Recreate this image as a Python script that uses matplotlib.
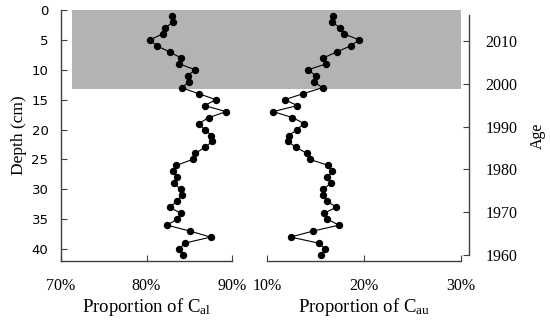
import matplotlib
matplotlib.use("Agg")
import matplotlib.pyplot as plt
import numpy as np
from matplotlib.patches import Rectangle

# depth of each sample (cm)
depth = list(range(1, 42))

# proportion of C_al (%)
c_al = [83.0, 83.1, 82.2, 81.9, 80.4, 81.2, 82.7, 84.0, 83.8, 85.7,
        84.8, 85.0, 84.1, 86.1, 88.1, 86.8, 89.3, 87.3, 86.1, 86.8,
        87.6, 87.7, 86.8, 85.7, 85.4, 83.5, 83.1, 83.6, 83.2, 84.0,
        84.1, 83.6, 82.7, 84.0, 83.6, 82.4, 85.1, 87.5, 84.5, 83.8,
        84.3]

# proportion of C_au (%)
c_au = [16.8, 16.7, 17.5, 17.9, 19.5, 18.6, 17.2, 15.8, 16.1, 14.2,
        15.0, 14.8, 15.7, 13.7, 11.8, 13.1, 10.6, 12.6, 13.8, 13.1,
        12.2, 12.1, 13.0, 14.1, 14.4, 16.3, 16.7, 16.2, 16.6, 15.7,
        15.7, 16.2, 17.1, 15.9, 16.2, 17.4, 14.7, 12.4, 15.3, 16.0,
        15.5]

depth_ticks = [0, 5, 10, 15, 20, 25, 30, 35, 40]
al_ticks = [70, 80, 90]
au_ticks = [10, 20, 30]
age_ticks = [1960, 1970, 1980, 1990, 2000, 2010]

shade_depth = 13.3  # grey band (recent period)

SERIF = "Liberation Serif"
plt.rcParams["font.family"] = SERIF
plt.rcParams["mathtext.fontset"] = "custom"
plt.rcParams["mathtext.rm"] = SERIF
plt.rcParams["mathtext.it"] = SERIF + ":italic"

W, H = 550, 322
fig = plt.figure(figsize=(W / 100, H / 100), dpi=100)

top, bot = 10, 261
ax1 = fig.add_axes([61 / W, (H - bot) / H, (232 - 61) / W, (bot - top) / H])
ax2 = fig.add_axes([267.3 / W, (H - bot) / H, (461 - 267.3) / W, (bot - top) / H])
ax3 = fig.add_axes([469 / W - 0.01, (H - bot) / H, 0.01, (bot - top) / H])

spine_col = "#404040"
for ax in (ax1, ax2, ax3):
    ax.set_facecolor("none")
    for s in ax.spines.values():
        s.set_color(spine_col)
        s.set_linewidth(1.0)

style = dict(color="black", marker="o", markersize=4.3, linewidth=0.8)
ax1.plot(c_al, depth, **style)
ax2.plot(c_au, depth, **style)

for ax in (ax1, ax2):
    ax.set_ylim(42, 0)
    ax.spines["top"].set_visible(False)
    ax.spines["right"].set_visible(False)
    ax.tick_params(axis="x", direction="in", length=4, pad=12.5, labelsize=11.5,
                   color=spine_col)

ax1.set_xlim(70, 90)
ax1.set_xticks(al_ticks)
ax1.set_xticklabels([f"{t}%" for t in al_ticks])
ax1.set_yticks(depth_ticks)
ax1.tick_params(axis="y", direction="in", length=4, pad=9, color=spine_col)
for lab in ax1.get_yticklabels():
    lab.set_fontfamily("DejaVu Sans")
    lab.set_fontsize(9.5)
ax1.set_xlabel("Proportion of C$_{\\mathrm{al}}$", fontsize=13.5, labelpad=1.5)
ax1.set_ylabel("Depth (cm)", fontsize=12.5, labelpad=3)

ax2.set_xlim(10, 30)
ax2.set_xticks(au_ticks)
ax2.set_xticklabels([f"{t}%" for t in au_ticks])
ax2.spines["left"].set_visible(False)
ax2.set_yticks([])
ax2.set_xlabel("Proportion of C$_{\\mathrm{au}}$", fontsize=13.5, labelpad=1.5)

# age axis
ax3.set_ylim(1958.65, 2017.16)
for s in ("left", "top", "bottom"):
    ax3.spines[s].set_visible(False)
ax3.spines["right"].set_bounds(1960, 2016)
ax3.set_xticks([])
ax3.yaxis.tick_right()
ax3.yaxis.set_label_position("right")
ax3.set_yticks(age_ticks)
ax3.tick_params(axis="y", direction="in", length=4, pad=12, labelsize=11.5,
                color=spine_col)
ax3.set_ylabel("Age", fontsize=11.5, labelpad=9)

# grey band spanning both panels
inv = fig.transFigure.inverted()
x0, y0 = inv.transform(ax1.transData.transform((71.25, shade_depth)))
x1, y1 = inv.transform(ax2.transData.transform((30, 0)))
fig.patches.append(Rectangle((x0, y0), x1 - x0, y1 - y0, transform=fig.transFigure,
                             facecolor="#b3b3b3", edgecolor="none", zorder=-1))

fig.savefig("out.png", dpi=100)
